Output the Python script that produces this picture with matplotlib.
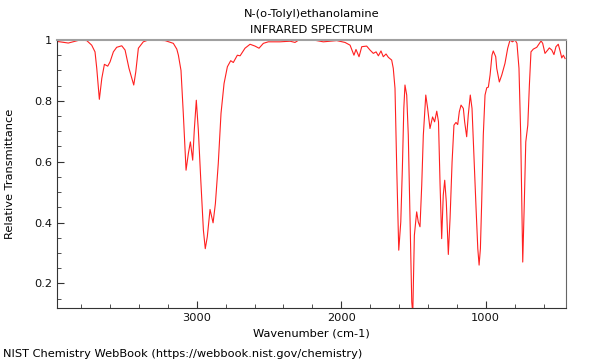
import numpy as np
import matplotlib
matplotlib.use("Agg")
import matplotlib.pyplot as plt
from matplotlib.ticker import MultipleLocator

# spectrum (wavenumber cm-1, relative transmittance)
wavenumber = [3962, 3932, 3889, 3849, 3808, 3761, 3727, 3704, 3692, 3674,
              3657, 3639, 3616, 3600, 3577, 3554, 3519, 3496, 3469, 3436,
              3422, 3404, 3370, 3335, 3219, 3162, 3138, 3127, 3109, 3093,
              3074, 3058, 3044, 3028, 3017, 3003, 2989, 2972, 2954, 2941,
              2927, 2908, 2887, 2871, 2851, 2832, 2811, 2788, 2765, 2747,
              2719, 2700, 2666, 2631, 2597, 2569, 2539, 2505, 2424, 2354,
              2320, 2297, 2193, 2124, 2031, 1974, 1939, 1912, 1898, 1877,
              1858, 1824, 1801, 1778, 1759, 1743, 1725, 1709, 1690, 1674,
              1651, 1640, 1628, 1616, 1602, 1588, 1577, 1567, 1559, 1547,
              1536, 1524, 1512, 1505, 1494, 1478, 1467, 1455, 1443, 1432,
              1415, 1402, 1386, 1368, 1354, 1339, 1327, 1316, 1305, 1294,
              1284, 1273, 1259, 1247, 1233, 1220, 1206, 1194, 1183, 1171,
              1155, 1146, 1132, 1121, 1107, 1095, 1083, 1067, 1055, 1046,
              1037, 1028, 1017, 1005, 993, 982, 970, 957, 948, 931,
              924, 906, 889, 867, 848, 832, 816, 797, 784, 770,
              758, 744, 733, 723, 709, 698, 687, 671, 647, 631,
              617, 606, 590, 571, 560, 543, 528, 514, 498, 484,
              474, 463, 451]
transmittance = [0.995, 0.993, 0.990, 0.995, 1.000, 0.998, 0.983, 0.961, 0.907, 0.805,
                 0.874, 0.920, 0.914, 0.928, 0.961, 0.976, 0.981, 0.967, 0.907, 0.852,
                 0.895, 0.973, 0.994, 1.000, 0.998, 0.989, 0.970, 0.950, 0.900, 0.758,
                 0.572, 0.627, 0.665, 0.605, 0.704, 0.802, 0.704, 0.539, 0.375, 0.314,
                 0.353, 0.443, 0.399, 0.462, 0.594, 0.759, 0.857, 0.912, 0.932, 0.926,
                 0.950, 0.948, 0.973, 0.986, 0.980, 0.973, 0.989, 0.994, 0.994, 0.996,
                 0.992, 0.999, 1.000, 0.994, 0.998, 0.992, 0.983, 0.950, 0.969, 0.945,
                 0.978, 0.980, 0.967, 0.956, 0.961, 0.948, 0.964, 0.945, 0.954, 0.943,
                 0.934, 0.907, 0.841, 0.578, 0.309, 0.402, 0.578, 0.775, 0.852, 0.819,
                 0.687, 0.413, 0.139, 0.100, 0.358, 0.435, 0.402, 0.386, 0.523, 0.687,
                 0.819, 0.775, 0.709, 0.747, 0.731, 0.766, 0.731, 0.523, 0.347, 0.490,
                 0.539, 0.468, 0.295, 0.413, 0.599, 0.720, 0.729, 0.722, 0.764, 0.786,
                 0.775, 0.731, 0.682, 0.753, 0.819, 0.775, 0.632, 0.446, 0.314, 0.260,
                 0.314, 0.468, 0.687, 0.819, 0.843, 0.845, 0.885, 0.950, 0.964, 0.945,
                 0.907, 0.862, 0.885, 0.923, 0.973, 1.000, 0.994, 1.000, 0.989, 0.907,
                 0.687, 0.270, 0.468, 0.665, 0.720, 0.852, 0.961, 0.970, 0.976, 0.987,
                 0.997, 0.989, 0.956, 0.967, 0.974, 0.967, 0.952, 0.978, 0.986, 0.961,
                 0.941, 0.950, 0.939]

fig = plt.figure(figsize=(6, 3.6), dpi=100)
ax = fig.add_axes([0.0955, 0.1453, 0.8475, 0.7436])
ax.plot(wavenumber, transmittance, color="#ff2020", lw=0.8)

ax.set_xlim(3965, 446)
ax.set_ylim(0.12, 1.0)
ax.xaxis.set_major_locator(MultipleLocator(1000))
ax.xaxis.set_minor_locator(MultipleLocator(200))
ax.yaxis.set_minor_locator(MultipleLocator(0.05))
ax.set_yticks([0.2, 0.4, 0.6, 0.8, 1.0])
ax.set_yticklabels(["0.2", "0.4", "0.6", "0.8", "1"])
ax.tick_params(which="both", direction="in", labelsize=8.2, color="#333333", labelcolor="#111111")
ax.tick_params(which="major", length=5)
ax.tick_params(which="minor", length=3)

ax.spines["top"].set_color("#a0a0a0")
ax.spines["top"].set_linewidth(1.5)
ax.spines["right"].set_color("#666666")
ax.spines["left"].set_color("#333333")
ax.spines["bottom"].set_color("#333333")

ax.set_title("N-(o-Tolyl)ethanolamine\nINFRARED SPECTRUM", fontsize=8.2, linespacing=1.75, pad=5)
ax.set_xlabel("Wavenumber (cm-1)", fontsize=8.2, labelpad=4)
ax.set_ylabel("Relative Transmittance", fontsize=8.2, labelpad=14)
fig.text(0.005, 0.008, "NIST Chemistry WebBook (https://webbook.nist.gov/chemistry)", fontsize=8.2)

fig.savefig("out.png", dpi=100)
